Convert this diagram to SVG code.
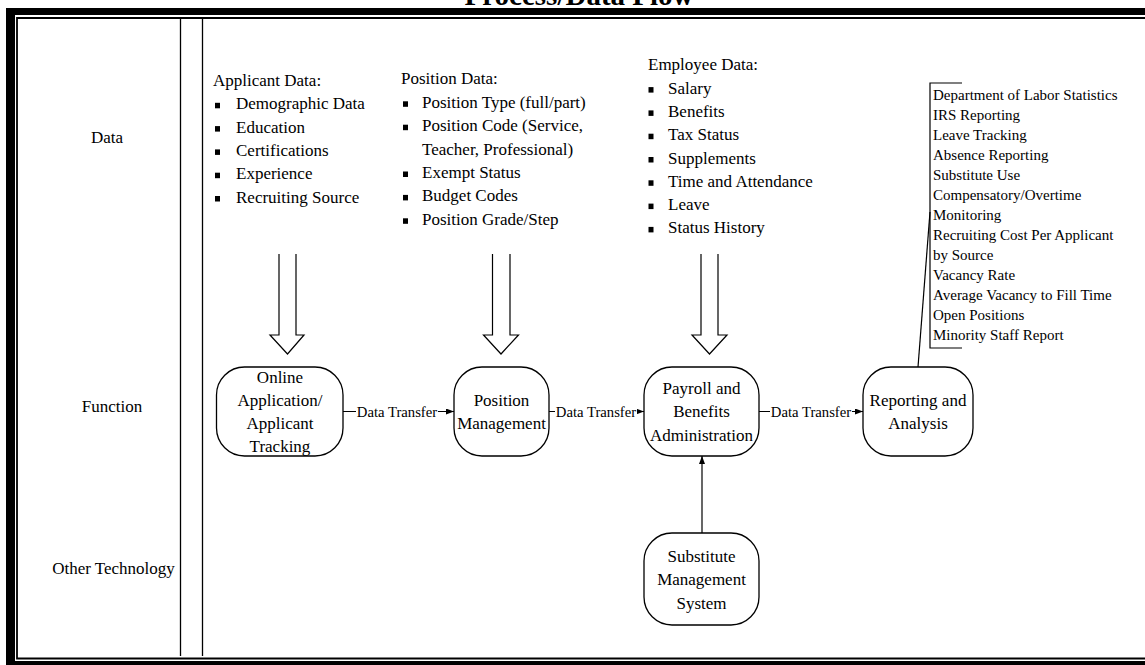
<svg xmlns="http://www.w3.org/2000/svg" width="1145" height="665" viewBox="0 0 1145 665">
<style>
text{font-family:"Liberation Serif","Times New Roman",serif;fill:#000}
.t{font-size:17px}
.s{font-size:15px}
.lbl{font-size:14.7px;text-anchor:middle}
.c{text-anchor:middle}
.node{fill:#fff;stroke:#000;stroke-width:1.3}
.blk{fill:#fff;stroke:#000;stroke-width:1.2}
.ln{stroke:#000;stroke-width:1.2;fill:none}
.bul{fill:#000}
</style>
<defs>
<marker id="ah" viewBox="0 0 8 6" refX="8" refY="3" markerWidth="8" markerHeight="6" markerUnits="userSpaceOnUse" orient="auto"><path d="M0,0L8,3L0,6z" fill="#000"/></marker>
</defs>
<rect width="1145" height="665" fill="#fff"/>
<g id="frame">
<rect x="6" y="8" width="1139" height="7" fill="#000"/>
<rect x="6" y="8" width="9" height="657" fill="#000"/>
<rect x="6" y="661" width="1139" height="4" fill="#000"/>
<path d="M1145,18H17V658.5H1145" fill="none" stroke="#000" stroke-width="1.8"/>
<line x1="180.5" y1="18" x2="180.5" y2="656" stroke="#000" stroke-width="1.3"/>
<line x1="202.5" y1="18" x2="202.5" y2="656" stroke="#000" stroke-width="1.3"/>
</g>
<text x="579" y="5" class="c" style="font-size:29px;font-weight:bold">Process/Data Flow</text>
<g id="row-labels">
<text x="107" y="143" class="t c">Data</text>
<text x="112" y="412" class="t c">Function</text>
<text x="113.5" y="574" class="t c">Other Technology</text>
</g>
<g id="applicant-data">
<text x="213" y="86" class="t">Applicant Data:</text>
<rect class="bul" x="215" y="102.8" width="5" height="5.5"/><text x="236" y="109.3" class="t">Demographic Data</text>
<rect class="bul" x="215" y="126.1" width="5" height="5.5"/><text x="236" y="132.6" class="t">Education</text>
<rect class="bul" x="215" y="149.4" width="5" height="5.5"/><text x="236" y="155.9" class="t">Certifications</text>
<rect class="bul" x="215" y="172.7" width="5" height="5.5"/><text x="236" y="179.2" class="t">Experience</text>
<rect class="bul" x="215" y="196" width="5" height="5.5"/><text x="236" y="202.5" class="t">Recruiting Source</text>
</g>
<g id="position-data">
<text x="401" y="84" class="t">Position Data:</text>
<rect class="bul" x="403" y="101.3" width="5" height="5.5"/><text x="422" y="107.8" class="t">Position Type (full/part)</text>
<rect class="bul" x="403" y="124.7" width="5" height="5.5"/><text x="422" y="131.2" class="t">Position Code (Service,</text>
<text x="422" y="154.6" class="t">Teacher, Professional)</text>
<rect class="bul" x="403" y="171.5" width="5" height="5.5"/><text x="422" y="178" class="t">Exempt Status</text>
<rect class="bul" x="403" y="194.9" width="5" height="5.5"/><text x="422" y="201.4" class="t">Budget Codes</text>
<rect class="bul" x="403" y="218.3" width="5" height="5.5"/><text x="422" y="224.8" class="t">Position Grade/Step</text>
</g>
<g id="employee-data">
<text x="648" y="70" class="t">Employee Data:</text>
<rect class="bul" x="648.5" y="87.1" width="5" height="5.5"/><text x="668" y="93.6" class="t">Salary</text>
<rect class="bul" x="648.5" y="110.4" width="5" height="5.5"/><text x="668" y="116.9" class="t">Benefits</text>
<rect class="bul" x="648.5" y="133.7" width="5" height="5.5"/><text x="668" y="140.2" class="t">Tax Status</text>
<rect class="bul" x="648.5" y="157" width="5" height="5.5"/><text x="668" y="163.5" class="t">Supplements</text>
<rect class="bul" x="648.5" y="180.3" width="5" height="5.5"/><text x="668" y="186.8" class="t">Time and Attendance</text>
<rect class="bul" x="648.5" y="203.6" width="5" height="5.5"/><text x="668" y="210.1" class="t">Leave</text>
<rect class="bul" x="648.5" y="226.9" width="5" height="5.5"/><text x="668" y="233.4" class="t">Status History</text>
</g>
<g id="report-list">
<path class="ln" d="M962,83H930V348H962"/>
<text x="933" y="100" class="s">Department of Labor Statistics</text>
<text x="933" y="120" class="s">IRS Reporting</text>
<text x="933" y="140" class="s">Leave Tracking</text>
<text x="933" y="160" class="s">Absence Reporting</text>
<text x="933" y="180" class="s">Substitute Use</text>
<text x="933" y="200" class="s">Compensatory/Overtime</text>
<text x="933" y="220" class="s">Monitoring</text>
<text x="933" y="240" class="s">Recruiting Cost Per Applicant</text>
<text x="933" y="260" class="s">by Source</text>
<text x="933" y="280" class="s">Vacancy Rate</text>
<text x="933" y="300" class="s">Average Vacancy to Fill Time</text>
<text x="933" y="320" class="s">Open Positions</text>
<text x="933" y="340" class="s">Minority Staff Report</text>
</g>
<g id="block-arrows">
<path class="blk" d="M279,254V335H270L287.5,354L304,335H296V254"/>
<path class="blk" d="M492.5,254V335H483.5L501,354L518.5,335H510V254"/>
<path class="blk" d="M701,254V335H692L709.5,354L727,335H718V254"/>
</g>
<g id="connectors">
<line class="ln" x1="918" y1="367" x2="930" y2="212"/>
<line class="ln" x1="343" y1="411.5" x2="454" y2="411.5" marker-end="url(#ah)"/>
<line class="ln" x1="549" y1="411.5" x2="644" y2="411.5" marker-end="url(#ah)"/>
<line class="ln" x1="759" y1="411.5" x2="863" y2="411.5" marker-end="url(#ah)"/>
<line class="ln" x1="702" y1="533" x2="702" y2="456" marker-end="url(#ah)"/>
<rect x="356" y="403" width="82" height="16" fill="#fff"/>
<text x="397" y="416.5" class="lbl">Data Transfer</text>
<rect x="555" y="403" width="82" height="16" fill="#fff"/>
<text x="596" y="416.5" class="lbl">Data Transfer</text>
<rect x="770" y="403" width="82" height="16" fill="#fff"/>
<text x="811" y="416.5" class="lbl">Data Transfer</text>
</g>
<g id="node-online">
<rect class="node" x="216.5" y="367" width="126.5" height="89" rx="28" ry="28"/>
<text x="280" y="382.5" class="t c">Online</text>
<text x="280" y="405.8" class="t c">Application/</text>
<text x="280" y="429.1" class="t c">Applicant</text>
<text x="280" y="452.4" class="t c">Tracking</text>
</g>
<g id="node-position">
<rect class="node" x="454" y="367" width="95" height="89" rx="28" ry="28"/>
<text x="501.5" y="405.5" class="t c">Position</text>
<text x="501.5" y="428.8" class="t c">Management</text>
</g>
<g id="node-payroll">
<rect class="node" x="644" y="367" width="115" height="89" rx="28" ry="28"/>
<text x="701.5" y="393.5" class="t c">Payroll and</text>
<text x="701.5" y="417" class="t c">Benefits</text>
<text x="701.5" y="440.5" class="t c">Administration</text>
</g>
<g id="node-reporting">
<rect class="node" x="863" y="367" width="110" height="89" rx="28" ry="28"/>
<text x="918" y="405.5" class="t c">Reporting and</text>
<text x="918" y="428.8" class="t c">Analysis</text>
</g>
<g id="node-substitute">
<rect class="node" x="644" y="533" width="115" height="92" rx="28" ry="28"/>
<text x="701.5" y="561.5" class="t c">Substitute</text>
<text x="701.5" y="585" class="t c">Management</text>
<text x="701.5" y="608.5" class="t c">System</text>
</g>
</svg>
